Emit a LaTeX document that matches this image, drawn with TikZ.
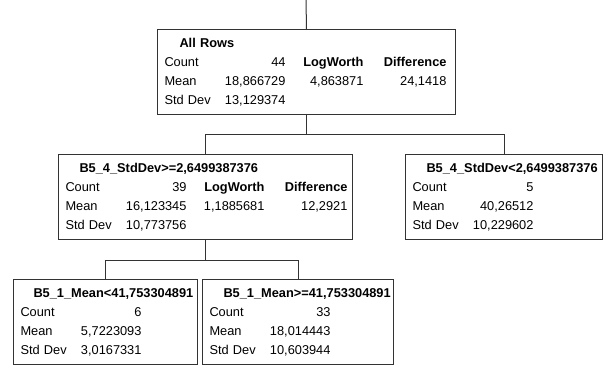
\documentclass[tikz,border=0pt]{standalone}
\usepackage{fontspec}
\setmainfont{Liberation Sans}
\usepackage{array}
\newcolumntype{L}[1]{>{\raggedright\arraybackslash}p{#1}}
\newcolumntype{R}[1]{>{\raggedleft\arraybackslash}p{#1}}
\newcommand{\statfont}{\fontsize{12.8}{19}\selectfont}
\colorlet{myline}{black!80}

\begin{document}
\begin{tikzpicture}[x=1pt,y=-1pt]
\useasboundingbox (0,0) rectangle (605,366);
\tikzset{splitbox/.style ={draw=myline, line width=1pt, rectangle, anchor=north west,
  minimum height=85pt, inner xsep=7pt, inner ysep=0pt, align=left, font=\statfont}}
\tikzset{branch/.style ={draw=myline, line width=1pt}}
\node[splitbox, text width=284pt] (allrows) at (157,29) {%
\begin{tabular}{@{}L{50pt}@{}R{71pt}@{}R{78pt}@{}R{83pt}@{}}
\multicolumn{4}{@{}l@{}}{\hspace{15pt}\textbf{All Rows}}\\
Count & 44 & \textbf{LogWorth} & \textbf{Difference}\\
Mean & 18,866729 & 4,863871 & 24,1418\\
Std Dev & 13,129374 & &
\end{tabular}};
\node[splitbox, text width=280pt] (sdhigh) at (58,154) {%
\begin{tabular}{@{}L{50pt}@{}R{71pt}@{}R{78pt}@{}R{83pt}@{}}
\multicolumn{4}{@{}l@{}}{\hspace{14pt}\textbf{B5\_4\_StdDev>=2,6499387376}}\\
Count & 39 & \textbf{LogWorth} & \textbf{Difference}\\
Mean & 16,123345 & 1,1885681 & 12,2921\\
Std Dev & 10,773756 & &
\end{tabular}};
\node[splitbox, text width=183pt] (sdlow) at (405,154) {%
\begin{tabular}{@{}L{50pt}@{}R{71pt}@{}}
\multicolumn{2}{@{}l@{}}{\hspace{14pt}\textbf{B5\_4\_StdDev<2,6499387376}}\\
Count & 5\\
Mean & 40,26512\\
Std Dev & 10,229602
\end{tabular}};
\node[splitbox, text width=170pt] (meanlow) at (13,279) {%
\begin{tabular}{@{}L{50pt}@{}R{71pt}@{}}
\multicolumn{2}{@{}l@{}}{\hspace{13pt}\textbf{B5\_1\_Mean<41,753304891}}\\
Count & 6\\
Mean & 5,7223093\\
Std Dev & 3,0167331
\end{tabular}};
\node[splitbox, text width=177pt] (meanhigh) at (202,279) {%
\begin{tabular}{@{}L{50pt}@{}R{71pt}@{}}
\multicolumn{2}{@{}l@{}}{\hspace{14pt}\textbf{B5\_1\_Mean>=41,753304891}}\\
Count & 33\\
Mean & 18,014443\\
Std Dev & 10,603944
\end{tabular}};
\coordinate (top) at (306,0);
\draw[branch] (top) -- (allrows.north);
\draw[branch] (allrows.south) -- ++(0,20) -| (sdhigh.north);
\draw[branch] (allrows.south) -- ++(0,20) -| (sdlow.north);
\draw[branch] (sdhigh.south) -- ++(0,20) -| (meanlow.north);
\draw[branch] (sdhigh.south) -- ++(0,20) -| (meanhigh.north);
\end{tikzpicture}
\end{document}
